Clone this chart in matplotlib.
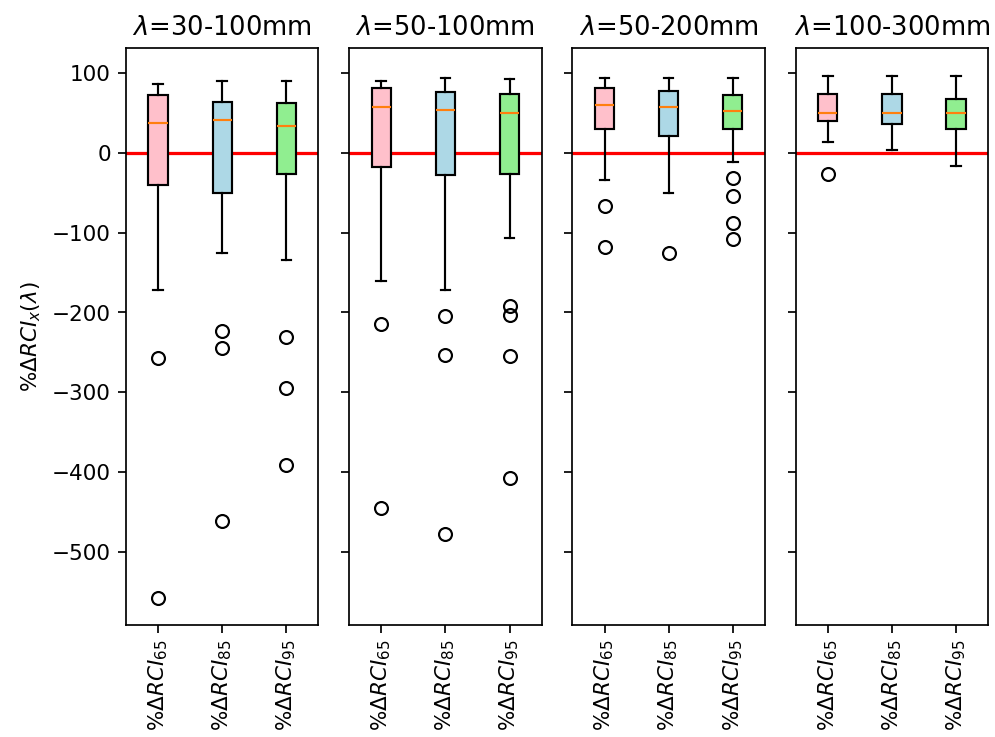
import matplotlib
matplotlib.use("Agg")
import matplotlib.pyplot as plt

panel_titles = [r'$\lambda$=30-100mm', r'$\lambda$=50-100mm', r'$\lambda$=50-200mm', r'$\lambda$=100-300mm']
series_labels = [r'$\%\Delta RCI_{65}$', r'$\%\Delta RCI_{85}$', r'$\%\Delta RCI_{95}$']
box_colors = ['pink', 'lightblue', 'lightgreen']

medians = [[38, 41, 34], [58, 53.5, 50], [60, 58, 52], [50, 50, 50]]
q1 = [[-40, -50, -27], [-18, -28, -27], [30, 21, 30], [40, 36, 30]]
q3 = [[72, 63.5, 62], [81.5, 76, 73.5], [81.5, 77, 72], [74, 74, 67]]
whislo = [[-172, -126, -134], [-160, -172, -107], [-34, -50, -12], [14, 4, -16]]
whishi = [[86, 90, 90], [90, 94, 92], [94, 94, 94], [96, 96, 96]]
fliers = [
    [[-257, -558], [-223, -244, -461], [-231, -294, -391]],
    [[-214, -445], [-204, -253, -477], [-192, -203, -254, -407]],
    [[-66, -118], [-125], [-32, -54, -88, -108]],
    [[-26], [], []],
]

fig, axes = plt.subplots(1, 4, sharey=True, figsize=(6.42, 4.755), dpi=155)
fig.subplots_adjust(left=0.1266, right=0.993, bottom=0.152, top=0.935, wspace=0.16)

for p, ax in enumerate(axes):
    stats = []
    for s in range(3):
        stats.append(dict(med=medians[p][s], q1=q1[p][s], q3=q3[p][s],
                          whislo=whislo[p][s], whishi=whishi[p][s],
                          fliers=fliers[p][s], label=series_labels[s]))
    bp = ax.bxp(stats, positions=[1, 2, 3], widths=0.3, patch_artist=True)
    for patch, c in zip(bp['boxes'], box_colors):
        patch.set_facecolor(c)
    ax.axhline(0, color='red', linewidth=1.5, zorder=0.5)
    ax.set_title(panel_titles[p], fontsize=12)
    ax.tick_params(axis='x', labelrotation=90)
    ax.set_xlim(0.5, 3.5)

axes[0].set_ylim(-591.5, 131.5)
axes[0].set_ylabel(r'$\%\Delta RCI_x(\lambda)$')
fig.savefig('out.png', dpi=155)
